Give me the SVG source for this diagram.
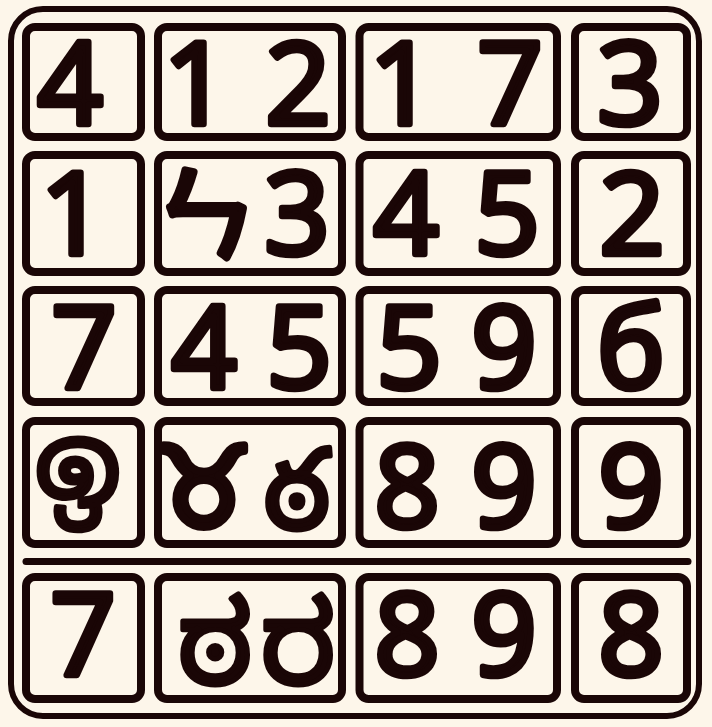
<svg xmlns="http://www.w3.org/2000/svg" width="712" height="727" viewBox="0 0 712 727">
<style>
.bg{fill:#fdf6ea}
.frame{fill:none;stroke:#1a0606;stroke-width:6}
.box{fill:#fdf6ea;stroke:#1a0606;stroke-width:8}
.d{font-family:"Open Sans","Liberation Sans",sans-serif;font-size:114px;font-weight:400;fill:#1a0606;stroke:#1a0606;stroke-width:6.5;stroke-linejoin:round;stroke-linecap:round;text-anchor:middle}
.cjk{font-family:"Noto Sans CJK SC",sans-serif;font-size:100px;stroke-width:8}
.sym{font-family:"DejaVu Sans",sans-serif;font-size:112px;stroke-width:8}
.ind{font-family:"Noto Sans Kannada","Noto Sans Telugu","Noto Sans Sinhala","Noto Sans",sans-serif;font-size:100px;stroke-width:5}
</style>
<rect class="bg" x="0" y="0" width="712" height="727"/>
<g id="frame">
<rect class="frame" x="11" y="9" width="688" height="707" rx="32"/>
</g>
<g id="connectors">
<line x1="26" y1="561.5" x2="688" y2="561.5" stroke="#1a0606" stroke-width="7" stroke-linecap="round"/>
</g>
<g id="r1c1"><rect class="box" x="26" y="27" width="115" height="110" rx="9"/><text class="d" x="70" y="124">4</text></g>
<g id="r1c2"><rect class="box" x="158" y="27" width="184" height="110" rx="9"/><text class="d" x="196" y="124">1</text><text class="d" x="298" y="124">2</text></g>
<g id="r1c3"><rect class="box" x="359.5" y="27" width="197.5" height="110" rx="9"/><text class="d" x="402" y="124">1</text><text class="d" x="510" y="124">7</text></g>
<g id="r1c4"><rect class="box" x="575" y="27" width="112" height="110" rx="9"/><text class="d" x="630" y="124">3</text></g>

<g id="r2c1"><rect class="box" x="26" y="155" width="115" height="117" rx="9"/><text class="d" x="73" y="254">1</text></g>
<g id="r2c2"><rect class="box" x="158" y="155" width="184" height="117" rx="9"/><text class="d cjk" x="205" y="251">ㄣ</text><text class="d" x="297" y="254">3</text></g>
<g id="r2c3"><rect class="box" x="359.5" y="155" width="197.5" height="117" rx="9"/><text class="d" x="406" y="254">4</text><text class="d" x="507" y="254">5</text></g>
<g id="r2c4"><rect class="box" x="575" y="155" width="112" height="117" rx="9"/><text class="d" x="632" y="254">2</text></g>

<g id="r3c1"><rect class="box" x="26" y="290" width="115" height="112" rx="9"/><text class="d" x="84" y="388">7</text></g>
<g id="r3c2"><rect class="box" x="158" y="290" width="184" height="112" rx="9"/><text class="d" x="204" y="388">4</text><text class="d" x="299" y="388">5</text></g>
<g id="r3c3"><rect class="box" x="359.5" y="290" width="197.5" height="112" rx="9"/><text class="d" x="409" y="388">5</text><text class="d" x="504" y="388">9</text></g>
<g id="r3c4"><rect class="box" x="575" y="290" width="112" height="112" rx="9"/><text class="d" x="631" y="388">б</text></g>

<g id="r4c1"><rect class="box" x="26" y="421" width="115" height="123" rx="9"/><text class="d ind" x="78" y="507" style="font-size:112px">ඉ</text></g>
<g id="r4c2"><rect class="box" x="158" y="421" width="184" height="123" rx="9"/><text class="d sym" x="204" y="527">♉</text><text class="d ind" x="297" y="529" style="font-size:112px">ఠ</text></g>
<g id="r4c3"><rect class="box" x="359.5" y="421" width="197.5" height="123" rx="9"/><text class="d" x="407" y="527">8</text><text class="d" x="504" y="527">9</text></g>
<g id="r4c4"><rect class="box" x="575" y="421" width="112" height="123" rx="9"/><text class="d" x="631" y="527">9</text></g>

<g id="r5c1"><rect class="box" x="26" y="577" width="115" height="122" rx="9"/><text class="d" x="83" y="675">7</text></g>
<g id="r5c2"><rect class="box" x="158" y="577" width="184" height="122" rx="9"/><text class="d ind" x="215" y="684" style="font-size:114px">ಠ</text><text class="d ind" x="298" y="684" style="font-size:114px">ರ</text></g>
<g id="r5c3"><rect class="box" x="359.5" y="577" width="197.5" height="122" rx="9"/><text class="d" x="407" y="675">8</text><text class="d" x="504" y="675">9</text></g>
<g id="r5c4"><rect class="box" x="575" y="577" width="112" height="122" rx="9"/><text class="d" x="631" y="675">8</text></g>
</svg>
